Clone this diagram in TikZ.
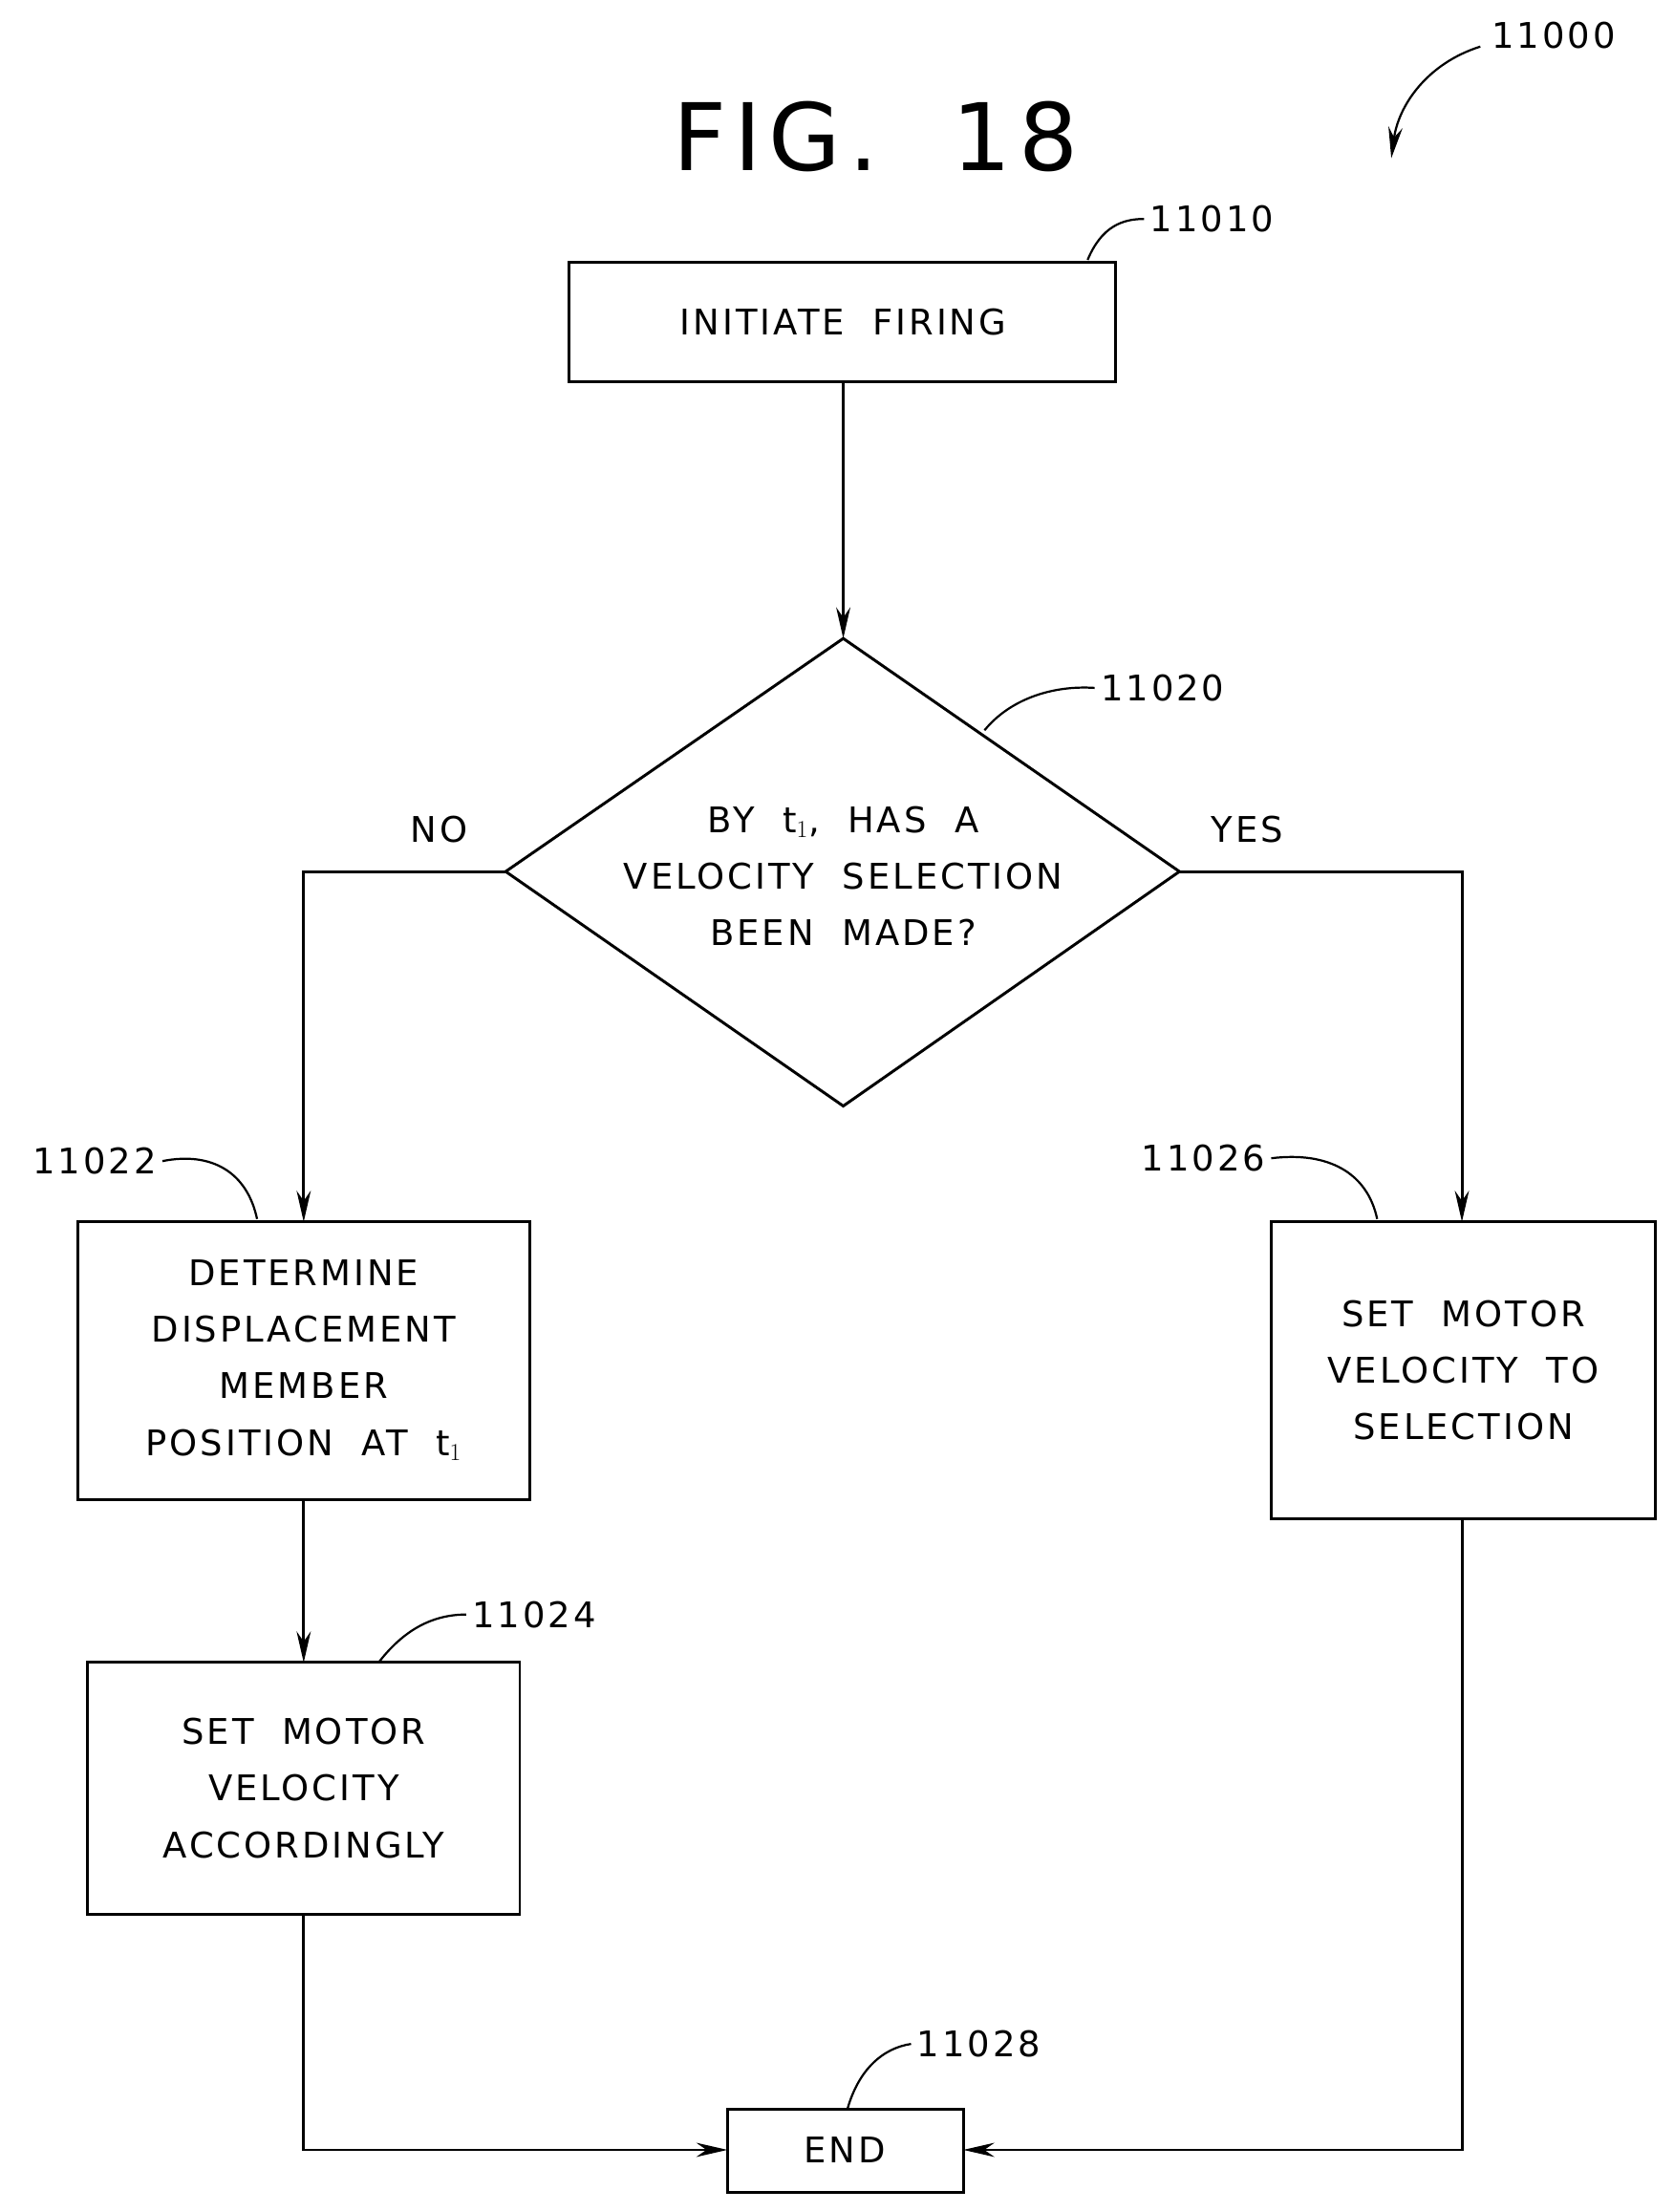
\documentclass[tikz,border=0pt]{standalone}
\usepackage{fontspec}
\setmainfont{DejaVu Sans}[LetterSpace=8,WordSpace=2]
\usetikzlibrary{arrows.meta}
\begin{document}
\begin{tikzpicture}[x=1pt,y=-1pt,line width=2pt,
  box/.style={draw,line width=2pt},
  txt/.style={font=\fontsize{25}{40}\selectfont,align=center},
  lbl/.style={font=\fontsize{25}{30}\selectfont},
  arr/.style={-{Stealth[length=22pt,width=10pt]}},
  lead/.style={line width=1.5pt}]
\useasboundingbox (0,0) rectangle (1185,1566);
\node[font=\fontsize{66}{70}\selectfont] (fig) at (620,97) {FIG. 18};
\node[lbl] (l0) at (1100,25) {11000};
\coordinate (c0) at (985,112);
\draw[lead,arr] (1048,33) .. controls (1010,45) and (990,75) .. (c0);
% boxes
\draw[box] (403,186) rectangle (790,270);
\node[txt] (b1) at (597,228) {INITIATE FIRING};
\draw[box] (597,452) -- (835,617) -- (597,783) -- (358,617) -- cycle;
\node[txt] (d) at (597,620) {BY t$_1$, HAS A\\VELOCITY SELECTION\\BEEN MADE?};
\draw[box] (55,865) rectangle (375,1062);
\node[txt] (b2) at (215,963) {DETERMINE\\DISPLACEMENT\\MEMBER\\POSITION AT t$_1$};
\draw[box] (62,1177) rectangle (368,1355);
\node[txt] (b3) at (215,1266) {SET MOTOR\\VELOCITY\\ACCORDINGLY};
\draw[box] (900,865) rectangle (1172,1075);
\node[txt] (b4) at (1036,970) {SET MOTOR\\VELOCITY TO\\SELECTION};
\draw[box] (515,1493) rectangle (682,1552);
\node[txt] (e) at (598,1522) {END};
% connectors
\draw[arr] (597,270) -- (597,452);
\draw[arr] (358,617) -- (215,617) -- (215,865);
\draw[arr] (835,617) -- (1035,617) -- (1035,865);
\draw[arr] (215,1062) -- (215,1177);
\draw[arr] (215,1355) -- (215,1522) -- (515,1522);
\draw[arr] (1035,1075) -- (1035,1522) -- (682,1522);
\node[lbl] (no) at (311,587) {NO};
\node[lbl] (yes) at (883,587) {YES};
% labels
\node[lbl,anchor=west] (l1) at (810,155) {11010};
\draw[lead] (770,184) .. controls (780,160) and (795,155) .. (l1.west);
\node[lbl,anchor=west] (l2) at (775,487) {11020};
\draw[lead] (697,517) .. controls (715,495) and (745,485) .. (l2.west);
\node[lbl,anchor=east] (l3) at (115,822) {11022};
\draw[lead] (l3.east) .. controls (150,815) and (175,830) .. (182,863);
\node[lbl,anchor=west] (l4) at (330,1143) {11024};
\draw[lead] (268,1177) .. controls (285,1155) and (305,1143) .. (l4.west);
\node[lbl,anchor=east] (l5) at (900,820) {11026};
\draw[lead] (l5.east) .. controls (940,815) and (968,830) .. (975,863);
\node[lbl,anchor=west] (l6) at (645,1447) {11028};
\draw[lead] (600,1493) .. controls (608,1465) and (625,1450) .. (l6.west);
\end{tikzpicture}
\end{document}
